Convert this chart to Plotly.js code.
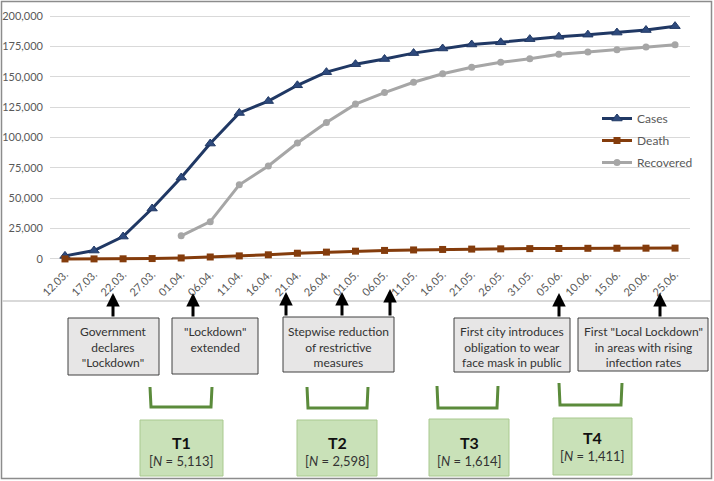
<!DOCTYPE html>
<html>
<head>
<meta charset="utf-8">
<script src="https://cdn.plot.ly/plotly-3.0.1.min.js"></script>
<style>html,body{margin:0;padding:0;background:#fff;}#chart{width:714px;height:481px;}</style>
</head>
<body>
<div id="chart"></div>
<script>
// ---- data ----
const dates = ["12.03.","17.03.","22.03.","27.03.","01.04.","06.04.","11.04.","16.04.","21.04.","26.04.","01.05.","06.05.","11.05.","16.05.","21.05.","26.05.","31.05.","05.06.","10.06.","15.06.","20.06.","25.06."];
const cases = [2500,6900,18400,41500,67000,95000,120200,130000,143000,153800,160400,164600,169500,173300,176600,178400,181000,183000,184700,186400,188500,191700];
const deaths = [0,20,100,300,800,1600,2500,3400,4700,5600,6400,7000,7400,7800,8100,8300,8500,8600,8750,8800,8850,8900];
const recovered = [null,null,null,null,19000,30700,61000,76500,95500,112300,127500,137000,145500,152500,157800,161900,164900,168500,170400,172300,174500,176400];
const seriesNames = ["Cases","Death","Recovered"];
const eventTexts = [
  "Government<br>declares<br>\"Lockdown\"",
  "\"Lockdown\"<br>extended",
  "Stepwise reduction<br>of restrictive<br>measures",
  "First city introduces<br>obligation to wear<br>face mask in public",
  "First \"Local Lockdown\"<br>in areas with rising<br>infection rates"
];
const waveLabels = ["T1","T2","T3","T4"];
const waveN = ["5,113","2,598","1,614","1,411"];

// ---- geometry helpers (pixel -> paper) ----
const W=714,H=481,ML=50,MR=24,MT=10,MB=216;
const PW=W-ML-MR, PH=H-MT-MB;
const px=p=>(p-ML)/PW;
const py=p=>(H-MB-p)/PH;

const FONT="Lato, 'Open Sans', sans-serif";

const traces=[
 {x:dates,y:cases,name:seriesNames[0],legendgroup:"a",type:"scatter",mode:"lines+markers",cliponaxis:false,
  line:{color:"#203864",width:3},marker:{symbol:"triangle-up",size:9,color:"#2e4a7d",line:{color:"#203864",width:1}}},
 {x:dates,y:deaths,name:seriesNames[1],legendgroup:"b",type:"scatter",mode:"lines+markers",cliponaxis:false,
  line:{color:"#843c0c",width:3},marker:{symbol:"square",size:7,color:"#843c0c"}},
 {x:dates,y:recovered,name:seriesNames[2],legendgroup:"c",type:"scatter",mode:"lines+markers",cliponaxis:false,
  line:{color:"#a6a6a6",width:3},marker:{symbol:"circle",size:7,color:"#a6a6a6"}}
];

const shapes=[];
const annotations=[];
// outer border
shapes.push({type:"rect",xref:"paper",yref:"paper",x0:px(1.5),x1:px(711.5),y0:py(1.5),y1:py(478.5),line:{color:"#8c8c8c",width:1.5},fillcolor:"rgba(0,0,0,0)",layer:"above"});
// separator line under axis labels
shapes.push({type:"line",xref:"paper",yref:"paper",x0:px(2),x1:px(711),y0:py(301),y1:py(301),line:{color:"#d9d9d9",width:2}});

// event boxes
const boxes=[[68,159,318,375],[172,258,318,374],[283,394,317,372],[454,570,318,372],[578,708,318,371]];
const boxTextTop=[322,322,322,322,322];
boxes.forEach((b,i)=>{
  shapes.push({type:"rect",xref:"paper",yref:"paper",x0:px(b[0]),x1:px(b[1]),y0:py(b[2]),y1:py(b[3]),line:{color:"#404040",width:1},fillcolor:"#e7e6e6"});
  annotations.push({xref:"paper",yref:"paper",x:px((b[0]+b[1])/2),y:py(boxTextTop[i]),xanchor:"center",yanchor:"top",showarrow:false,
    text:eventTexts[i],align:"center",font:{family:FONT,size:12,color:"#333333"}});
});
// arrows
const arrows=[[113,293,318],[193,293,318],[286,292,317],[342,292,317],[390,289,317],[559,293,318],[660,293,318]];
arrows.forEach(a=>{
  annotations.push({xref:"paper",yref:"paper",x:px(a[0]),y:py(a[1]),ax:0,ay:a[2]-a[1],text:"",showarrow:true,
    arrowhead:2,arrowsize:0.9,arrowwidth:3,arrowcolor:"#000000",standoff:0,startstandoff:0});
});
// green brackets
const brackets=[[150,212,387,407],[307,368,387,408],[437,498,386,408],[559,622,383,405]];
brackets.forEach(b=>{
  shapes.push({type:"path",xref:"paper",yref:"paper",
    path:`M ${px(b[0])},${py(b[2])} L ${px(b[0]+1)},${py(b[3])} L ${px(b[1]-1)},${py(b[3])} L ${px(b[1])},${py(b[2])}`,
    line:{color:"#5b8b3b",width:3}});
});
// wave boxes
const waves=[[140,223,420,476,442,461],[297,377,420,476,442,461],[429,509,419,476,442,461],[553,632,418,475,437,456]];
waves.forEach((w,i)=>{
  shapes.push({type:"rect",xref:"paper",yref:"paper",x0:px(w[0]),x1:px(w[1]),y0:py(w[2]),y1:py(w[3]),line:{color:"#a9c98f",width:1},fillcolor:"#c9e1b8"});
  annotations.push({xref:"paper",yref:"paper",x:px((w[0]+w[1])/2),y:py(w[4]),xanchor:"center",yanchor:"middle",showarrow:false,
    text:"<b>"+waveLabels[i]+"</b>",font:{family:FONT,size:16,color:"#111111"}});
  annotations.push({xref:"paper",yref:"paper",x:px((w[0]+w[1])/2),y:py(w[5]),xanchor:"center",yanchor:"middle",showarrow:false,
    text:"[<i>N</i> = "+waveN[i]+"]",font:{family:FONT,size:13,color:"#333333"}});
});

const layout={
  width:W,height:H,margin:{l:ML,r:MR,t:MT,b:MB},
  paper_bgcolor:"#ffffff",plot_bgcolor:"#ffffff",
  font:{family:FONT,size:11,color:"#595959"},
  showlegend:true,
  legend:{x:px(597),y:py(104),xanchor:"left",yanchor:"top",bgcolor:"rgba(0,0,0,0)",font:{family:FONT,size:12,color:"#595959"},tracegroupgap:3},
  xaxis:{type:"category",range:[-0.516,21.515],tickangle:-45,showgrid:false,showline:false,zeroline:false,ticks:"",
    tickfont:{family:FONT,size:11,color:"#595959"},fixedrange:true},
  yaxis:{range:[-5000,205000],tick0:0,dtick:25000,tickformat:",.0f",showgrid:true,gridcolor:"#d9d9d9",gridwidth:1,
    zeroline:false,showline:false,ticks:"",ticklabelstandoff:6,tickfont:{family:FONT,size:11,color:"#595959"},fixedrange:true},
  shapes:shapes,annotations:annotations
};
Plotly.newPlot("chart",traces,layout,{displayModeBar:false,staticPlot:true});
</script>
</body>
</html>
